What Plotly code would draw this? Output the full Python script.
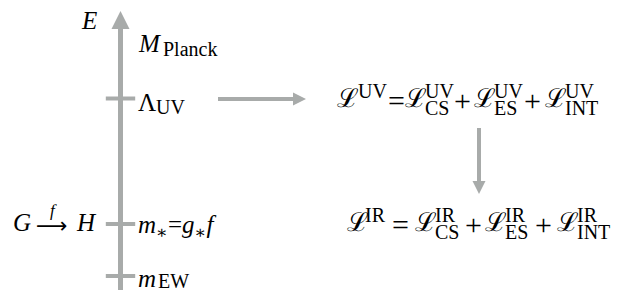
import plotly.graph_objects as go

# ---------------- content (text / data) ----------------
axis_label = "<i>E</i>"
scale_main = ["<i>M</i>", "Λ", "<i>m</i><sub>∗</sub>=<i>g</i><sub>∗</sub><i>f</i>", "<i>m</i>"]
scale_sub = ["Planck", "UV", "", "EW"]
scale_has_tick = [False, True, True, True]
map_parts = ["<i>G</i>", "⟶", "<i>H</i>"]
map_over = "<i>f</i>"
regimes = ["UV", "IR"]
sectors = ["CS", "ES", "INT"]
lag = "ℒ"

# ---------------- layout constants ----------------
W, H = 624, 291
GRAY = "#a8abaa"
FONT = "Liberation Serif, DejaVu Serif, serif"
S, s = 25, 20
AX_X = 120.5
label_y = [42, 101, 225, 277]      # main-glyph centre per scale
sub_dx = [25, 18, 0, 20]
sub_dy = [7, 6, 0, 4]
tick_y = [None, 98.5, 224, 276]
eq_y = {"UV": 99, "IR": 223}
eq_x = {"UV": dict(L0=335, sup0=356, eq=396, sc=[423, 492, 563], plus=[462, 532]),
        "IR": dict(L0=345, sup0=363, eq=400, sc=[433, 503, 575], plus=[473, 543])}

fig = go.Figure()


def seg(xs, ys, w):
    fig.add_trace(go.Scatter(x=xs, y=ys, mode="lines", line=dict(color=GRAY, width=w),
                             hoverinfo="skip", showlegend=False))


def head(x, y, sym, size):
    fig.add_trace(go.Scatter(x=[x], y=[y], mode="markers",
                             marker=dict(symbol=sym, size=size, color=GRAY, line=dict(width=0)),
                             hoverinfo="skip", showlegend=False))


# energy axis shaft + head
seg([AX_X, AX_X], [290, 24], 5)
head(AX_X, 11, "arrow-up", 18)
# tick marks
tx = [AX_X for t in scale_has_tick if t]
ty = [y for y, t in zip(tick_y, scale_has_tick) if t]
fig.add_trace(go.Scatter(x=tx, y=ty, mode="markers",
                         marker=dict(symbol="line-ew", size=21, line=dict(color=GRAY, width=4)),
                         hoverinfo="skip", showlegend=False))
# flow arrows
seg([218, 296], [99, 99], 4)
head(306, 99, "arrow-right", 13)
seg([479, 479], [128, 184], 4)
head(479, 194, "arrow-down", 13)

ann = []


def txt(t, x, y, size=S, xa="left", fam=FONT):
    ann.append(dict(text=t, x=x, y=y, xref="x", yref="y", xanchor=xa, yanchor="middle",
                    showarrow=False, font=dict(family=fam, size=size, color="black")))


txt(axis_label, 99, 20, xa="right")

# scale labels
for m, sb, y, dx, dy in zip(scale_main, scale_sub, label_y, sub_dx, sub_dy):
    txt(m, 136, y + 1)
    if sb:
        txt(sb, 136 + dx, y + dy, size=s)

# G -f-> H
txt(map_parts[0], 22, 222, xa="center")
txt(map_parts[1], 52, 225, size=22, xa="center", fam="DejaVu Sans, " + FONT)
txt(map_over, 53, 210, size=17, xa="center")
txt(map_parts[2], 86, 222, xa="center")

# Lagrangian equations
for r in regimes:
    y = eq_y[r]
    p = eq_x[r]
    txt(lag, p["L0"], y - 1, size=S + 1)
    txt(r, p["sup0"], y - 8, size=s)
    txt("=", p["eq"], y + 1, size=30, xa="center")
    for sec, x in zip(sectors, p["sc"]):
        txt(lag, x - 20, y - 1, size=S + 1)
        txt(r, x, y - 8, size=s)
        txt(sec, x, y + 9, size=s)
    for x in p["plus"]:
        txt("+", x, y + 1, size=30, xa="center")

fig.update_layout(
    width=W, height=H, margin=dict(l=0, r=0, t=0, b=0),
    paper_bgcolor="white", plot_bgcolor="white",
    xaxis=dict(range=[0, W], visible=False, fixedrange=True),
    yaxis=dict(range=[H, 0], visible=False, fixedrange=True),
    annotations=ann, showlegend=False,
)
fig.write_html("out.html", config={"displayModeBar": False, "staticPlot": True},
               post_script="document.body.style.margin='0';")
